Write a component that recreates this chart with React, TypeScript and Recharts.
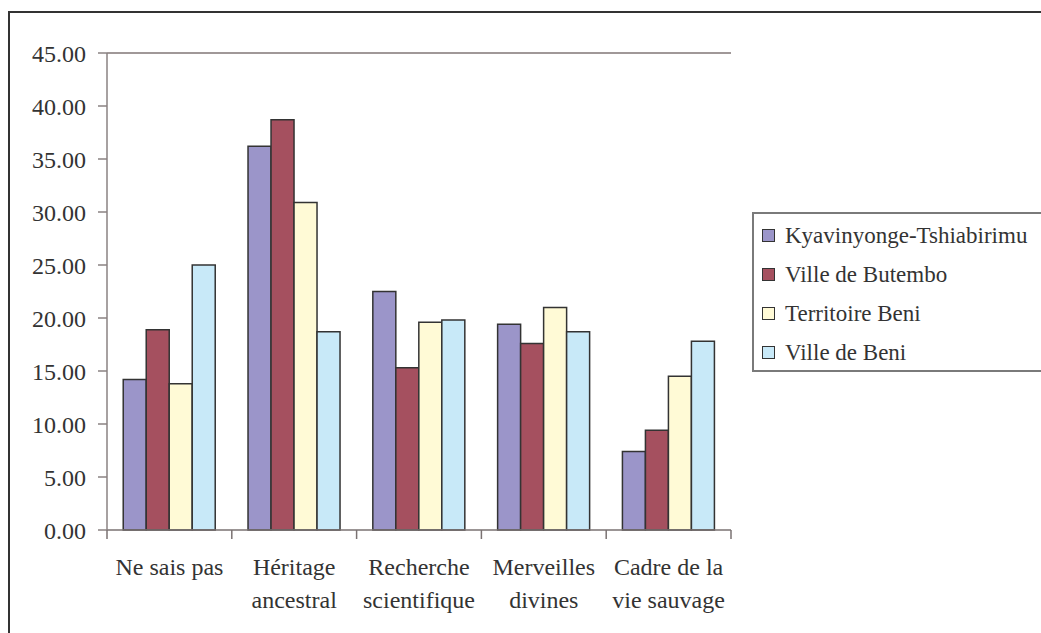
import React from "react";
import { BarChart, Bar, XAxis, YAxis, ReferenceLine } from "recharts";

const categoryLines: string[][] = [
  ["Ne sais pas"],
  ["Héritage", "ancestral"],
  ["Recherche", "scientifique"],
  ["Merveilles", "divines"],
  ["Cadre de la", "vie sauvage"],
];
const categories = categoryLines.map((l) => l.join(" "));

const kyavinyonge = [14.2, 36.2, 22.5, 19.4, 7.4];
const butembo = [18.9, 38.7, 15.3, 17.6, 9.4];
const territoireBeni = [13.8, 30.9, 19.6, 21.0, 14.5];
const villeBeni = [25.0, 18.7, 19.8, 18.7, 17.8];

const seriesNames = ["Kyavinyonge-Tshiabirimu", "Ville de Butembo", "Territoire Beni", "Ville de Beni"];
const seriesKeys = ["k", "b", "t", "v"];
const seriesColors = ["#9b95c9", "#a5505f", "#fffad6", "#c8e9f8"];
const yTicks = [0, 5, 10, 15, 20, 25, 30, 35, 40, 45];

const data = categories.map((c, i) => ({
  name: c,
  k: kyavinyonge[i],
  b: butembo[i],
  t: territoireBeni[i],
  v: villeBeni[i],
}));

const FONT = "'Liberation Serif', 'Times New Roman', serif";
const FS = 24;
const LFS = 23;
const PLOT_LEFT = 107;
const PLOT_RIGHT = 731;
const BAND = (PLOT_RIGHT - PLOT_LEFT) / categories.length;

const XTick = (props: any) => {
  const { x, y, payload, index } = props;
  const lines = categoryLines[index] || [payload.value];
  const left = x - BAND / 2;
  const axisY = y - 8;
  return (
    <g>
      <line x1={left} y1={axisY} x2={left} y2={axisY + 9} stroke="#7a7272" strokeWidth={1.5} />
      {index === categories.length - 1 && (
        <line x1={x + BAND / 2} y1={axisY} x2={x + BAND / 2} y2={axisY + 9} stroke="#7a7272" strokeWidth={1.5} />
      )}
      {lines.map((ln: string, i: number) => (
        <text key={i} x={x} y={axisY + 45 + i * 33} textAnchor="middle" fontFamily={FONT} fontSize={FS} fill="#333">
          {ln}
        </text>
      ))}
    </g>
  );
};

const LegendBox = () => (
  <div
    style={{
      position: "absolute",
      left: 752,
      top: 212,
      width: 320,
      height: 160,
      border: "2px solid #7a7a7a",
      boxSizing: "border-box",
      fontFamily: FONT,
      fontSize: LFS,
      color: "#333",
      paddingTop: 2,
    }}
  >
    {seriesNames.map((n, i) => (
      <div key={n} style={{ display: "flex", alignItems: "center", height: 39, paddingLeft: 8 }}>
        <span
          style={{
            display: "inline-block",
            width: 11,
            height: 11,
            background: seriesColors[i],
            border: "1.5px solid #333",
            marginRight: 10,
            flex: "none",
          }}
        />
        <span style={{ whiteSpace: "nowrap" }}>{n}</span>
      </div>
    ))}
  </div>
);

export default function App() {
  return (
    <div style={{ position: "absolute", left: 0, top: 0, width: 1041, height: 633, overflow: "hidden", background: "#fff" }}>
      <div
        style={{
          position: "absolute",
          left: 8,
          top: 11,
          width: 1100,
          height: 700,
          border: "2px solid #333",
          boxSizing: "border-box",
        }}
      />
      <div style={{ position: "absolute", left: 0, top: 0 }}>
        <BarChart
          width={1041}
          height={633}
          data={data}
          margin={{ top: 53, right: 310, bottom: 0, left: 0 }}
          barCategoryGap="13%"
          barGap={0}
        >
          <XAxis
            dataKey="name"
            height={103}
            stroke="#7a7272"
            strokeWidth={1.5}
            tickLine={false}
            interval={0}
            tick={<XTick />}
          />
          <YAxis
            width={107}
            domain={[0, 45]}
            ticks={yTicks}
            tickFormatter={(v: number) => v.toFixed(2)}
            stroke="#8a8282"
            strokeWidth={1.5}
            tickSize={9}
            tickMargin={12}
            tick={{ fontFamily: FONT, fontSize: FS, fill: "#333" }}
            interval={0}
          />
          <YAxis yAxisId="r" orientation="right" width={0} domain={[0, 45]} tick={false} tickLine={false} stroke="#a09898" strokeWidth={2} />
          <ReferenceLine y={45} stroke="#a09898" strokeWidth={2} />
          {seriesKeys.map((k, i) => (
            <Bar
              key={k}
              dataKey={k}
              name={seriesNames[i]}
              fill={seriesColors[i]}
              stroke="#333"
              strokeWidth={1.5}
              isAnimationActive={false}
            />
          ))}
        </BarChart>
      </div>
      <LegendBox />
    </div>
  );
}
